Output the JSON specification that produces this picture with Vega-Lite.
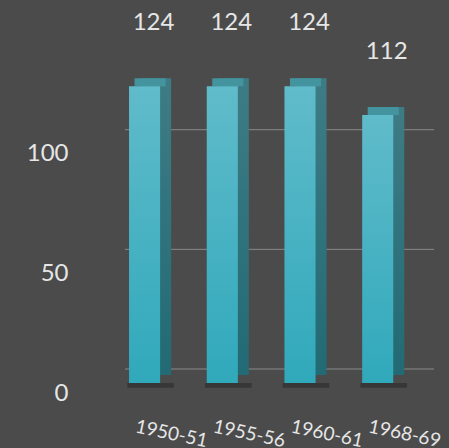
{
  "$schema": "https://vega.github.io/schema/vega-lite/v6.json",
  "width": 309,
  "height": 335,
  "autosize": {"type": "none"},
  "padding": {"left": 125, "right": 15, "top": 48, "bottom": 65},
  "background": "#4b4b4b",
  "config": {"view": {"stroke": null}, "font": "Lato"},
  "datasets": {
    "bars": [
      {"period": "1950-51", "value": 124},
      {"period": "1955-56", "value": 124},
      {"period": "1960-61", "value": 124},
      {"period": "1968-69", "value": 112}
    ],
    "grid": [{"g": 0}, {"g": 50}, {"g": 100}]
  },
  "layer": [
    {
      "data": {"name": "grid"},
      "mark": {"type": "rule", "color": "#8a8a8a", "strokeWidth": 1, "yOffset": -14},
      "encoding": {
        "y": {"field": "g", "type": "quantitative", "scale": {"domain": [0, 140], "nice": false},
              "axis": {"title": null, "grid": false, "domain": false, "ticks": false,
                       "values": [0, 50, 100], "labelPadding": 57, "labelOffset": 10,
                       "labelFontSize": 24, "labelColor": "#e6e6e6", "labelFont": "Lato"}}
      }
    },
    {
      "data": {"name": "bars"},
      "mark": {"type": "bar", "color": "#1e1e1e", "opacity": 0.45, "width": {"band": 1.5}, "xOffset": 6},
      "encoding": {
        "x": {"field": "period", "type": "nominal", "sort": null,
              "scale": {"paddingInner": 0.6, "paddingOuter": 0.288, "align": 0.09}},
        "y": {"datum": 0, "type": "quantitative"},
        "y2": {"datum": -2}
      }
    },
    {
      "data": {"name": "bars"},
      "mark": {"type": "bar", "xOffset": 11, "yOffset": -8, "y2Offset": -8,
               "color": {"gradient": "linear", "x1": 0, "y1": 0, "x2": 0, "y2": 1,
                         "stops": [{"offset": 0, "color": "#3e7c85"}, {"offset": 1, "color": "#226a74"}]}},
      "encoding": {
        "x": {"field": "period", "type": "nominal", "sort": null},
        "y": {"field": "value", "type": "quantitative"},
        "y2": {"datum": 0}
      }
    },
    {
      "data": {"name": "bars"},
      "mark": {"type": "bar", "xOffset": 5.5, "yOffset": -8, "y2Offset": 0, "color": "#4494a0"},
      "encoding": {
        "x": {"field": "period", "type": "nominal", "sort": null},
        "y": {"field": "value", "type": "quantitative"},
        "y2": {"field": "value"}
      }
    },
    {
      "data": {"name": "bars"},
      "mark": {"type": "bar",
               "color": {"gradient": "linear", "x1": 0, "y1": 0, "x2": 0, "y2": 1,
                         "stops": [{"offset": 0, "color": "#60bbca"}, {"offset": 1, "color": "#30a9bb"}]}},
      "encoding": {
        "x": {"field": "period", "type": "nominal", "sort": null,
              "axis": {"title": null, "domain": false, "ticks": false, "labelAngle": 12,
                       "labelAlign": "left", "labelBaseline": "top", "labelPadding": 34,
                       "labelOffset": -7, "labelFontSize": 19, "labelColor": "#e6e6e6",
                       "labelOverlap": false, "labelFont": "Lato"}},
        "y": {"field": "value", "type": "quantitative"},
        "y2": {"datum": 0}
      }
    },
    {
      "data": {"name": "bars"},
      "mark": {"type": "text", "dy": -63, "xOffset": 9, "baseline": "middle", "align": "center",
               "fontSize": 24, "color": "#e6e6e6", "font": "Lato"},
      "encoding": {
        "x": {"field": "period", "type": "nominal", "sort": null},
        "y": {"field": "value", "type": "quantitative"},
        "text": {"field": "value", "type": "quantitative"}
      }
    }
  ]
}
